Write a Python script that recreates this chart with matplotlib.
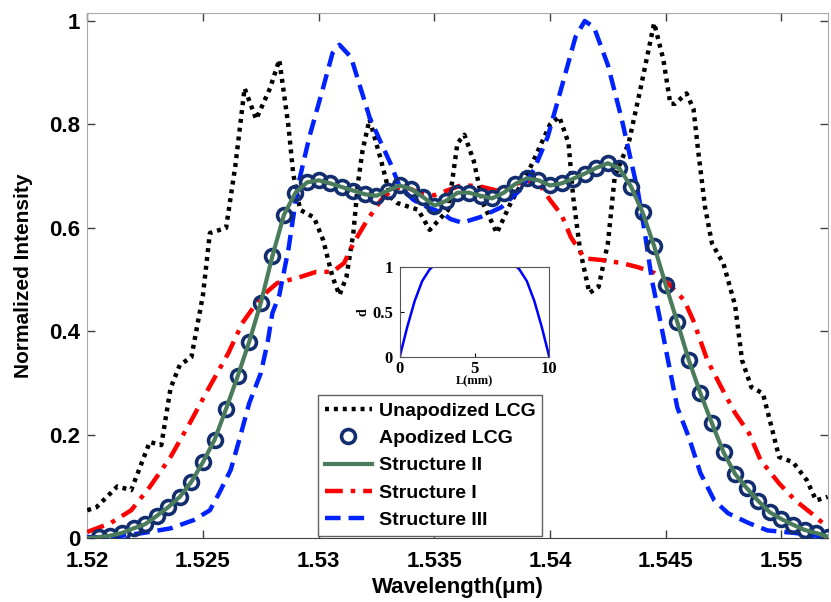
import matplotlib
matplotlib.use("Agg")
import matplotlib.pyplot as plt
from matplotlib import font_manager
import numpy as np

# wavelengths in um, normalized intensity
unapod_wl = [1.5200, 1.5204, 1.5213, 1.5219, 1.5227, 1.5232, 1.5236, 1.5240, 1.5245, 1.5250,
             1.5253, 1.5260, 1.5264, 1.5268, 1.5273, 1.5279, 1.5283, 1.5287, 1.5289, 1.5292,
             1.5298, 1.5302, 1.5306, 1.5309, 1.5312, 1.5315, 1.5317, 1.5319, 1.5322, 1.5327,
             1.5331, 1.5334, 1.5343, 1.5348, 1.5356, 1.5360, 1.5363, 1.5367, 1.5371, 1.5377,
             1.5383, 1.5391, 1.5400, 1.5404, 1.5408, 1.5410, 1.5413, 1.5417, 1.5421, 1.5425,
             1.5428, 1.5434, 1.5439, 1.5445, 1.5449, 1.5452, 1.5454, 1.5459, 1.5462, 1.5464,
             1.5467, 1.5470, 1.5475, 1.5480, 1.5483, 1.5487, 1.5492, 1.5495, 1.5499, 1.5505,
             1.5511, 1.5515, 1.5520]
unapod = [0.054, 0.06, 0.10, 0.093, 0.186, 0.18, 0.29, 0.335, 0.35, 0.47,
          0.59, 0.60, 0.72, 0.87, 0.81, 0.87, 0.925, 0.795, 0.705, 0.635,
          0.62, 0.576, 0.505, 0.47, 0.505, 0.59, 0.687, 0.75, 0.81, 0.73,
          0.66, 0.648, 0.635, 0.596, 0.635, 0.764, 0.78, 0.73, 0.648, 0.59,
          0.648, 0.712, 0.80, 0.815, 0.764, 0.66, 0.557, 0.474, 0.486, 0.57,
          0.70, 0.764, 0.867, 0.996, 0.925, 0.84, 0.84, 0.86, 0.83, 0.75,
          0.64, 0.57, 0.53, 0.45, 0.344, 0.292, 0.28, 0.228, 0.157, 0.147,
          0.112, 0.073, 0.08]

apod_wl = [1.5205, 1.5210, 1.5215, 1.5220, 1.5225, 1.5230, 1.5235, 1.5240, 1.5245, 1.5250,
           1.5255, 1.5260, 1.5265, 1.5270, 1.5275, 1.5280, 1.5285, 1.5290, 1.5295, 1.5300,
           1.5305, 1.5310, 1.5315, 1.5320, 1.5325, 1.5330, 1.5335, 1.5340, 1.5345, 1.5350,
           1.5355, 1.5360, 1.5365, 1.5370, 1.5375, 1.5380, 1.5385, 1.5390, 1.5395, 1.5400,
           1.5405, 1.5410, 1.5415, 1.5420, 1.5425, 1.5430, 1.5435, 1.5440, 1.5445, 1.5450,
           1.5455, 1.5460, 1.5465, 1.5470, 1.5475, 1.5480, 1.5485, 1.5490, 1.5495, 1.5500,
           1.5505, 1.5510, 1.5515, 1.5520]
apod = [0.002, 0.005, 0.010, 0.019, 0.027, 0.043, 0.060, 0.080, 0.109, 0.147,
        0.190, 0.250, 0.313, 0.380, 0.455, 0.545, 0.625, 0.668, 0.688, 0.692,
        0.686, 0.679, 0.672, 0.665, 0.662, 0.672, 0.682, 0.675, 0.660, 0.643,
        0.652, 0.668, 0.668, 0.662, 0.657, 0.668, 0.685, 0.696, 0.692, 0.682,
        0.686, 0.695, 0.705, 0.716, 0.725, 0.715, 0.680, 0.630, 0.565, 0.490,
        0.418, 0.344, 0.280, 0.222, 0.166, 0.124, 0.097, 0.072, 0.050, 0.037,
        0.026, 0.016, 0.010, 0.003]

struct2_wl = [1.5200] + apod_wl
struct2 = [0.0] + apod

struct1_wl = [1.5200, 1.5210, 1.5219, 1.5227, 1.5236, 1.5245, 1.5252, 1.5261, 1.5267, 1.5275,
              1.5282, 1.5292, 1.5299, 1.5306, 1.5311, 1.5315, 1.5321, 1.5327, 1.5332, 1.5337,
              1.5344, 1.5350, 1.5356, 1.5362, 1.5370, 1.5379, 1.5384, 1.5390, 1.5396, 1.5400,
              1.5405, 1.5409, 1.5415, 1.5422, 1.5431, 1.5438, 1.5445, 1.5451, 1.5458, 1.5462,
              1.5468, 1.5474, 1.5480, 1.5486, 1.5491, 1.5499, 1.5506, 1.5513, 1.5520]
struct1 = [0.012, 0.029, 0.054, 0.099, 0.157, 0.228, 0.286, 0.358, 0.416, 0.466,
           0.493, 0.505, 0.515, 0.515, 0.532, 0.57, 0.615, 0.654, 0.675, 0.68,
           0.667, 0.663, 0.673, 0.683, 0.68, 0.67, 0.683, 0.692, 0.68, 0.654,
           0.625, 0.582, 0.541, 0.538, 0.532, 0.524, 0.513, 0.493, 0.46, 0.42,
           0.344, 0.292, 0.242, 0.203, 0.151, 0.106, 0.073, 0.048, 0.021]

struct3_wl = [1.5200, 1.5210, 1.5224, 1.5236, 1.5246, 1.5253, 1.5257, 1.5262, 1.5266, 1.5270,
              1.5275, 1.5278, 1.5280, 1.5283, 1.5287, 1.5291, 1.5296, 1.5302, 1.5306, 1.5309,
              1.5314, 1.5318, 1.5322, 1.5327, 1.5331, 1.5335, 1.5341, 1.5347, 1.5353, 1.5357,
              1.5362, 1.5370, 1.5379, 1.5387, 1.5393, 1.5399, 1.5405, 1.5411, 1.5415, 1.5419,
              1.5425, 1.5431, 1.5435, 1.5438, 1.5441, 1.5444, 1.5447, 1.5451, 1.5455, 1.5460,
              1.5465, 1.5471, 1.5477, 1.5486, 1.5494, 1.5506, 1.5520]
struct3 = [0.002, 0.002, 0.01, 0.019, 0.035, 0.054, 0.087, 0.132, 0.195, 0.261,
           0.319, 0.38, 0.435, 0.47, 0.56, 0.68, 0.776, 0.872, 0.938, 0.954,
           0.93, 0.872, 0.814, 0.764, 0.725, 0.68, 0.654, 0.64, 0.63, 0.617,
           0.61, 0.621, 0.64, 0.673, 0.712, 0.776, 0.872, 0.969, 1.0, 0.988,
           0.915, 0.81, 0.73, 0.67, 0.59, 0.5, 0.435, 0.344, 0.253, 0.195,
           0.126, 0.073, 0.048, 0.029, 0.015, 0.01, 0.002]

# inset: apodization profile along the grating
inset_L = [0, 0.5, 1.0, 1.5, 2.0, 2.2, 7.8, 8.0, 8.5, 9.0, 9.5, 10]
inset_d = [0, 0.33, 0.62, 0.84, 0.97, 1.0, 1.0, 0.97, 0.84, 0.62, 0.33, 0]

x_ticks = [1.52, 1.525, 1.53, 1.535, 1.54, 1.545, 1.55]
x_labels = ["1.52", "1.525", "1.53", "1.535", "1.54", "1.545", "1.55"]
y_ticks = [0, 0.2, 0.4, 0.6, 0.8, 1.0]
y_labels = ["0", "0.2", "0.4", "0.6", "0.8", "1"]

names = {f.name for f in font_manager.fontManager.ttflist}
sans = "Liberation Sans Narrow" if "Liberation Sans Narrow" in names else "Liberation Sans"
plt.rcParams["font.family"] = [sans, "DejaVu Sans"]
plt.rcParams["font.weight"] = "bold"

fig = plt.figure(figsize=(8.31, 6.02), dpi=100)
ax = fig.add_axes([0.105, 0.106, 0.891, 0.872])

ax.plot(unapod_wl, unapod, color="black", lw=3.2, linestyle=(0, (0.9, 1.1)),
        label="Unapodized LCG", zorder=3)
ax.plot(apod_wl, apod, linestyle="none", marker="o", ms=10, mfc="none", mec="#132e6e",
        mew=2.6, label="Apodized LCG", zorder=4)
ax.plot(struct2_wl, struct2, color="#4a7c5c", lw=3, label="Structure II", zorder=5)
ax.plot(struct1_wl, struct1, color="#ff0000", lw=3.2, linestyle=(0, (4, 1.8, 1, 1.8)),
        label="Structure I", zorder=3)
ax.plot(struct3_wl, struct3, color="#0022ff", lw=3.2, linestyle=(0, (3.5, 1.8)),
        label="Structure III", zorder=3)

ax.set_xlim(1.52, 1.552)
ax.set_ylim(0, 1.015)
ax.set_xticks(x_ticks)
ax.set_xticklabels(x_labels)
ax.set_yticks(y_ticks)
ax.set_yticklabels(y_labels)
ax.tick_params(direction="in", length=6, width=1, top=True, right=True,
               labelsize=16, colors="#404040", labelcolor="black")
ax.tick_params(axis="x", pad=9)
ax.tick_params(axis="y", pad=5)
for side in ["top", "right", "left"]:
    ax.spines[side].set_color("#a8a8a8")
ax.spines["bottom"].set_color("#404040")

ax.set_xlabel("Wavelength(\u03bcm)", fontsize=16, fontweight="bold", labelpad=4)
ax.set_ylabel("Normalized Intensity", fontsize=15, fontweight="bold", labelpad=12)

leg = ax.legend(loc="upper left", bbox_to_anchor=(0.312, 0.272), borderaxespad=0,
                fontsize=14, handlelength=2.4, handletextpad=0.35, borderpad=0.35,
                labelspacing=0.5, fancybox=False, framealpha=1, edgecolor="#606060")
leg.get_frame().set_linewidth(1)

# inset with the apodization profile
ins = fig.add_axes([0.481, 0.407, 0.180, 0.150])
ins.plot(inset_L, inset_d, color="#0000ff", lw=1.8)
ins.set_xlim(0, 10)
ins.set_ylim(0, 1)
ins.set_xticks([0, 5, 10])
ins.set_yticks([0, 0.5, 1])
ins.set_yticklabels(["0", "0.5", "1"])
ins.tick_params(direction="in", length=3, labelsize=12)
ins.tick_params(axis="x", pad=3)
ins.tick_params(axis="y", pad=5)
for lab in ins.get_xticklabels() + ins.get_yticklabels():
    lab.set_family("Liberation Serif")
    lab.set_fontweight("bold")
ins.set_xlabel("L(mm)", fontsize=9, family="Liberation Serif", fontweight="bold", labelpad=-1)
ins.set_ylabel("d", fontsize=10, family="Liberation Serif", fontweight="bold", labelpad=2)
for side in ins.spines.values():
    side.set_color("#555555")

fig.savefig("out.png", dpi=100)
